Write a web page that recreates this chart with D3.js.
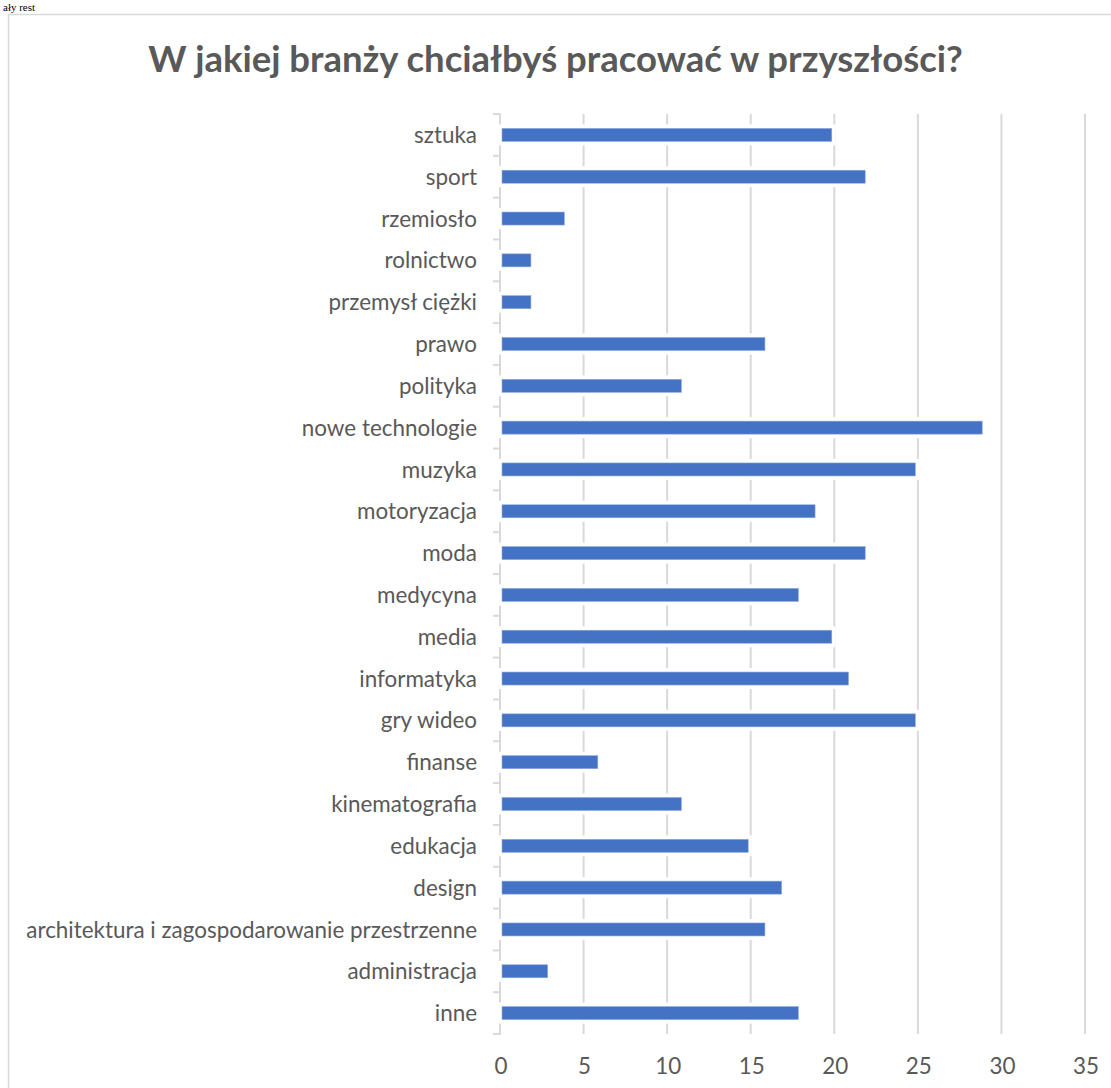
<!DOCTYPE html>
<html>
<head>
<meta charset="utf-8">
<script src="https://cdn.jsdelivr.net/npm/d3@7"></script>
<style>
  html, body { margin: 0; padding: 0; background: #fff; }
  svg { display: block; }
</style>
</head>
<body>
<svg id="chart" width="1111" height="1088"></svg>
<script>
const categories = [
  "sztuka", "sport", "rzemiosło", "rolnictwo", "przemysł ciężki", "prawo",
  "polityka", "nowe technologie", "muzyka", "motoryzacja", "moda", "medycyna",
  "media", "informatyka", "gry wideo", "finanse", "kinematografia", "edukacja",
  "design", "architektura i zagospodarowanie przestrzenne", "administracja", "inne"
];
const values = [20, 22, 4, 2, 2, 16, 11, 29, 25, 19, 22, 18, 20, 21, 25, 6, 11, 15, 17, 16, 3, 18];
const xTicks = [0, 5, 10, 15, 20, 25, 30, 35];
const title = "W jakiej branży chciałbyś pracować w przyszłości?";
const fragment = "ały rest";

const svg = d3.select("#chart");
const W = 1111, H = 1088;
const grey = "#595959", gridC = "#d9d9d9", barC = "#4472C4";
const FONT = "Lato, 'Open Sans', sans-serif";

const plot = { left: 500, right: 1085, top: 114, bottom: 1034 };
const x = d3.scaleLinear().domain([0, 35]).range([plot.left, plot.right]);
const y = d3.scaleBand().domain(categories).range([plot.top, plot.bottom]);

// helper to measure text width
function measure(txt, size, weight) {
  const t = svg.append("text").attr("font-family", FONT).attr("font-size", size)
    .attr("font-weight", weight || "normal").text(txt);
  const w = t.node().getComputedTextLength();
  t.remove();
  return w;
}

// fragment of text above the chart
svg.append("text").attr("x", 3).attr("y", 11)
  .attr("font-family", "'Liberation Serif', serif").attr("font-size", 11)
  .attr("fill", "#000").text(fragment);

// chart border
svg.append("rect").attr("x", 8.5).attr("y", 14.5).attr("width", 1120).attr("height", 1100)
  .attr("fill", "#fff").attr("stroke", gridC).attr("stroke-width", 1.5);

// title
const titleSize = 30 * 815 / measure(title, 30, "bold");
svg.append("text").attr("x", 555.5).attr("y", 72).attr("text-anchor", "middle")
  .attr("font-family", FONT).attr("font-weight", "bold").attr("font-size", titleSize)
  .attr("fill", grey).text(title);

// gridlines
svg.append("g").selectAll("line").data(xTicks.slice(1)).join("line")
  .attr("x1", d => x(d)).attr("x2", d => x(d))
  .attr("y1", plot.top).attr("y2", plot.bottom)
  .attr("stroke", gridC).attr("stroke-width", 2);

// category axis line + ticks
const axisG = svg.append("g");
axisG.append("line").attr("x1", plot.left).attr("x2", plot.left)
  .attr("y1", plot.top).attr("y2", plot.bottom + 1)
  .attr("stroke", gridC).attr("stroke-width", 2);
const bounds = categories.map(c => y(c)).concat([plot.bottom]);
axisG.selectAll("line.tk").data(bounds).join("line").attr("class", "tk")
  .attr("x1", plot.left - 7).attr("x2", plot.left)
  .attr("y1", d => d).attr("y2", d => d)
  .attr("stroke", gridC).attr("stroke-width", 2);

// bars: white halo then blue bar
const bw = y.bandwidth();
const rows = svg.append("g").selectAll("g").data(categories).join("g");
rows.append("rect")
  .attr("x", plot.left - 2)
  .attr("y", c => y(c) + bw / 2 - 10.5)
  .attr("width", (c, i) => x(values[i]) - plot.left + 3)
  .attr("height", 21)
  .attr("fill", "#fff");
rows.append("rect")
  .attr("x", plot.left + 2)
  .attr("y", c => y(c) + bw / 2 - 6.5)
  .attr("width", (c, i) => Math.max(0, x(values[i]) - plot.left - 4.5))
  .attr("height", 13)
  .attr("fill", barC)
  .attr("stroke", "#8eaadb").attr("stroke-width", 0.6);

// category labels
const labSize = 20 * 451 / measure(categories[19], 20);
svg.append("g").selectAll("text").data(categories).join("text")
  .attr("x", 477).attr("y", c => y(c) + bw / 2 + labSize * 0.36)
  .attr("text-anchor", "end")
  .attr("font-family", FONT).attr("font-size", labSize).attr("fill", grey)
  .text(c => c);

// x tick labels
svg.append("g").selectAll("text").data(xTicks).join("text")
  .attr("x", d => x(d) + 1).attr("y", 1074)
  .attr("text-anchor", "middle")
  .attr("font-family", FONT).attr("font-size", labSize).attr("fill", grey)
  .text(d => d);
</script>
</body>
</html>
